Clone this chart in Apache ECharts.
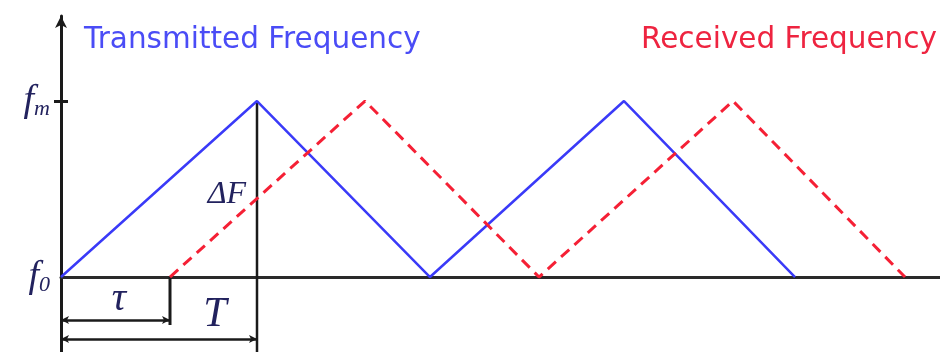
<!DOCTYPE html>
<html>
<head>
<meta charset="utf-8">
<script src="https://cdn.jsdelivr.net/npm/echarts@6/dist/echarts.min.js"></script>
<style>
  html, body { margin: 0; padding: 0; background: #fff; }
  #chart { width: 940px; height: 352px; }
</style>
</head>
<body>
<div id="chart"></div>
<script>
// time values (arbitrary units), frequency in units of f0..fm
const txTime = [0, 196, 369, 563, 734]
const txFreq = [0, 1, 0, 1, 0]
const rxTime = [109, 304, 478, 672, 844]
const rxFreq = [0, 1, 0, 1, 0]

// annotation marks
const periodEnd = 196
const delay = 109
const tauArrowY = -0.244
const periodArrowY = -0.352
const tauTickEnd = -0.273
const yMin = -0.426
const yMax = 1.483

const navy = '#22225e'

function toPairs(xs, ys) {
  return xs.map((x, i) => [x, ys[i]])
}

const chart = echarts.init(document.getElementById('chart'))

chart.setOption({
  animation: false,
  backgroundColor: '#fff',
  title: [{
    text: 'Transmitted Frequency',
    left: 79, top: 20,
    textStyle: { color: '#4a4cf6', fontFamily: 'DejaVu Sans', fontSize: 29.5, fontWeight: 'normal' }
  }, {
    text: 'Received Frequency',
    left: 636, top: 20,
    textStyle: { color: '#ee2440', fontFamily: 'DejaVu Sans', fontSize: 29.5, fontWeight: 'normal' }
  }],
  grid: { left: 61, right: 0, top: 16, bottom: 0, outerBoundsMode: 'none' },
  xAxis: {
    type: 'value',
    min: 0,
    max: 879,
    axisLine: { onZero: true, lineStyle: { color: '#2a2a2a', width: 3 } },
    axisTick: { show: false },
    axisLabel: { show: false },
    splitLine: { show: false }
  },
  yAxis: [{
    type: 'value',
    min: yMin,
    max: yMax,
    axisLine: {
      show: true,
      symbol: ['none', 'arrow'],
      symbolSize: [9, 12],
      lineStyle: { color: '#1a1a1a', width: 3 }
    },
    axisTick: { show: true, customValues: [1], length: 7, lineStyle: { color: '#1a1a1a', width: 3 } },
    axisLabel: {
      show: true,
      customValues: [0, 1],
      margin: 11,
      formatter: v => v === 1 ? '{f|f}{s|m}' : '{f|f}{s|0}',
      rich: {
        f: { fontFamily: 'Liberation Serif', fontStyle: 'italic', fontSize: 38, color: navy },
        s: { fontFamily: 'Liberation Serif', fontStyle: 'italic', fontSize: 22, color: navy, padding: [16, 0, 0, 0] }
      }
    },
    splitLine: { show: false }
  }, {
    type: 'value',
    min: yMin,
    max: yMax,
    position: 'left',
    axisLine: { show: false },
    axisTick: { show: true, inside: true, customValues: [1], length: 7, lineStyle: { color: '#1a1a1a', width: 3 } },
    axisLabel: { show: false },
    splitLine: { show: false }
  }],
  series: [{
    name: 'Transmitted Frequency',
    type: 'line',
    data: toPairs(txTime, txFreq),
    showSymbol: false,
    lineStyle: { color: '#3a3af8', width: 2.5 },
    z: 3
  }, {
    name: 'Received Frequency',
    type: 'line',
    data: toPairs(rxTime, rxFreq),
    showSymbol: false,
    lineStyle: { color: '#f52035', width: 3, type: [11, 7] },
    z: 4
  }, {
    name: 'period',
    type: 'line',
    data: [[periodEnd, 1], [periodEnd, yMin]],
    showSymbol: false,
    lineStyle: { color: '#1a1a1a', width: 2.5 },
    z: 2
  }, {
    name: 'delay',
    type: 'line',
    data: [[delay, 0], [delay, tauTickEnd]],
    showSymbol: false,
    lineStyle: { color: '#1a1a1a', width: 3 },
    markLine: {
      silent: true,
      symbol: ['arrow', 'arrow'],
      symbolSize: [6, 8],
      label: { show: false },
      lineStyle: { color: '#1a1a1a', width: 2.5, type: 'solid' },
      data: [
        [{ coord: [0, tauArrowY] }, { coord: [delay, tauArrowY] }],
        [{ coord: [0, periodArrowY] }, { coord: [periodEnd, periodArrowY] }]
      ]
    }
  }, {
    name: 'labels',
    type: 'scatter',
    symbolSize: 0,
    itemStyle: { opacity: 1 },
    data: [
      { value: [58, -0.125], label: { formatter: 'τ', fontSize: 40 } },
      { value: [154, -0.215], label: { formatter: 'T', fontSize: 42 } },
      { value: [166, 0.47], label: { formatter: 'ΔF', fontSize: 32 } }
    ],
    label: {
      show: true,
      position: 'inside',
      color: navy,
      opacity: 1,
      fontFamily: 'Liberation Serif',
      fontStyle: 'italic'
    },
    z: 5
  }]
})
</script>
</body>
</html>
